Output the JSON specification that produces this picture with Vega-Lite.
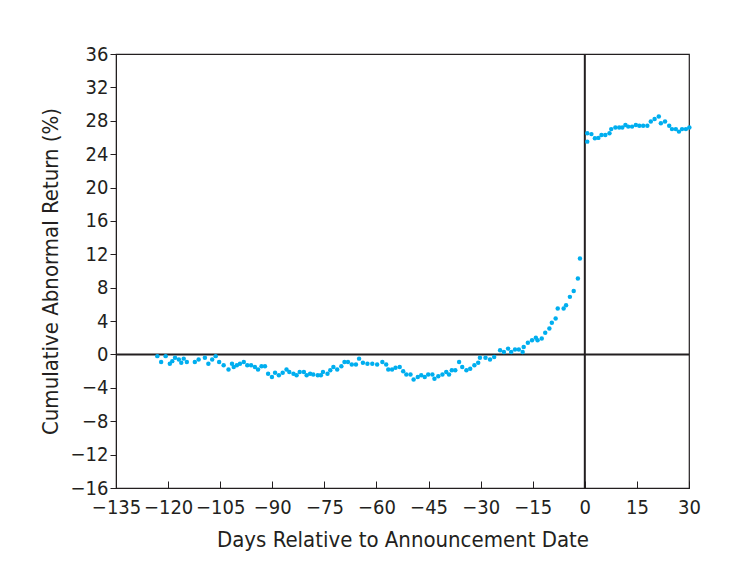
{
  "$schema": "https://vega.github.io/schema/vega-lite/v6.json",
  "width": 573,
  "height": 434,
  "autosize": {"type": "none"},
  "padding": {"left": 116, "top": 54, "right": 62, "bottom": 87},
  "background": "white",
  "config": {
    "view": {"stroke": "#231f20", "strokeWidth": 1.2},
    "axis": {
      "labelFont": "Liberation Sans Narrow, DejaVu Sans Condensed, Roboto",
      "labelFontSize": 20,
      "labelColor": "#231f20",
      "titleFont": "Liberation Sans Narrow, DejaVu Sans Condensed, Roboto",
      "titleFontSize": 22,
      "titleFontWeight": "normal",
      "titleColor": "#231f20",
      "domainColor": "#231f20",
      "tickColor": "#231f20",
      "grid": false
    }
  },
  "datasets": {
    "car": [
      {"day": -123.1, "value": -0.2}, {"day": -122, "value": -0.9}, {"day": -120.7, "value": -0.2}, {"day": -119.5, "value": -1.1},
      {"day": -118.8, "value": -0.8}, {"day": -118, "value": -0.4}, {"day": -116.9, "value": -0.6}, {"day": -116.2, "value": -1.0},
      {"day": -115.5, "value": -0.5}, {"day": -114.6, "value": -0.9}, {"day": -112.3, "value": -0.9}, {"day": -111.2, "value": -0.6},
      {"day": -109.4, "value": -0.4}, {"day": -108.4, "value": -1.1}, {"day": -107.3, "value": -0.6}, {"day": -106.3, "value": -0.2},
      {"day": -105.3, "value": -0.9}, {"day": -104, "value": -1.3}, {"day": -102.6, "value": -1.8}, {"day": -101.6, "value": -1.1},
      {"day": -101.1, "value": -1.5}, {"day": -100.2, "value": -1.3}, {"day": -99.3, "value": -1.1}, {"day": -98.2, "value": -0.9},
      {"day": -97.2, "value": -1.3}, {"day": -96.1, "value": -1.3}, {"day": -95, "value": -1.5}, {"day": -94.1, "value": -1.8},
      {"day": -93.1, "value": -1.4}, {"day": -92.1, "value": -1.4}, {"day": -91.2, "value": -2.3}, {"day": -90.1, "value": -2.7},
      {"day": -89.2, "value": -2.2}, {"day": -88.1, "value": -2.5}, {"day": -87, "value": -2.2}, {"day": -85.9, "value": -1.8},
      {"day": -85.1, "value": -2.1}, {"day": -83.9, "value": -2.3}, {"day": -83, "value": -2.5}, {"day": -82.1, "value": -2.1},
      {"day": -80.9, "value": -2.1}, {"day": -80.1, "value": -2.5}, {"day": -79.1, "value": -2.3}, {"day": -78.2, "value": -2.4},
      {"day": -76.9, "value": -2.5}, {"day": -76, "value": -2.5}, {"day": -75.4, "value": -2.1}, {"day": -74.1, "value": -2.3},
      {"day": -73.3, "value": -1.9}, {"day": -72.4, "value": -1.5}, {"day": -71.3, "value": -1.8}, {"day": -70.1, "value": -1.4},
      {"day": -69.2, "value": -0.9}, {"day": -68.2, "value": -0.9}, {"day": -67.1, "value": -1.2}, {"day": -65.9, "value": -1.2},
      {"day": -65, "value": -0.5}, {"day": -63.9, "value": -1.0}, {"day": -62.6, "value": -1.1}, {"day": -61.2, "value": -1.1},
      {"day": -59.8, "value": -1.2}, {"day": -58.3, "value": -0.9}, {"day": -57.2, "value": -1.2}, {"day": -56.6, "value": -1.8},
      {"day": -55.5, "value": -1.8}, {"day": -54.5, "value": -1.6}, {"day": -53.3, "value": -1.5}, {"day": -52.3, "value": -2.0},
      {"day": -51.4, "value": -2.4}, {"day": -50.2, "value": -2.4}, {"day": -49.3, "value": -3.0}, {"day": -48.1, "value": -2.7},
      {"day": -47.1, "value": -2.5}, {"day": -46.1, "value": -2.7}, {"day": -45.1, "value": -2.4}, {"day": -43.9, "value": -2.4},
      {"day": -43.3, "value": -2.9}, {"day": -42.2, "value": -2.6}, {"day": -41, "value": -2.4}, {"day": -39.9, "value": -2.1},
      {"day": -39.1, "value": -2.4}, {"day": -38.3, "value": -1.9}, {"day": -37.3, "value": -1.9}, {"day": -36.2, "value": -0.9},
      {"day": -35.3, "value": -1.5}, {"day": -34.1, "value": -1.9}, {"day": -33, "value": -1.7}, {"day": -31.8, "value": -1.3},
      {"day": -30.7, "value": -1.0}, {"day": -30.2, "value": -0.4}, {"day": -28.6, "value": -0.4}, {"day": -27.3, "value": -0.6},
      {"day": -26.1, "value": -0.3}, {"day": -24.4, "value": 0.5}, {"day": -23.3, "value": 0.3}, {"day": -22.1, "value": 0.7},
      {"day": -21.2, "value": 0.3}, {"day": -20.1, "value": 0.6}, {"day": -19, "value": 0.6}, {"day": -17.9, "value": 0.3},
      {"day": -17.6, "value": 0.9}, {"day": -16.4, "value": 1.4}, {"day": -15.2, "value": 1.7}, {"day": -14.1, "value": 2.0},
      {"day": -13.6, "value": 1.7}, {"day": -12.4, "value": 1.9}, {"day": -11.4, "value": 2.6}, {"day": -10.2, "value": 3.1},
      {"day": -9.5, "value": 3.8}, {"day": -8.4, "value": 4.3}, {"day": -7.8, "value": 5.5}, {"day": -6.1, "value": 5.5},
      {"day": -5.4, "value": 5.9}, {"day": -4.3, "value": 6.9}, {"day": -3.2, "value": 7.6}, {"day": -2, "value": 9.1},
      {"day": -1.4, "value": 11.5},
      {"day": 0.7, "value": 25.5}, {"day": 0.7, "value": 26.5}, {"day": 1.9, "value": 26.4}, {"day": 2.9, "value": 25.9},
      {"day": 3.9, "value": 25.95}, {"day": 4.8, "value": 26.3}, {"day": 5.9, "value": 26.3}, {"day": 7.1, "value": 26.5},
      {"day": 7.6, "value": 27.0}, {"day": 8.8, "value": 27.2}, {"day": 9.9, "value": 27.2}, {"day": 10.8, "value": 27.2},
      {"day": 11.7, "value": 27.5}, {"day": 12.5, "value": 27.3}, {"day": 13.6, "value": 27.3}, {"day": 14.7, "value": 27.5},
      {"day": 15.7, "value": 27.4}, {"day": 16.8, "value": 27.4}, {"day": 18, "value": 27.4}, {"day": 19, "value": 27.9},
      {"day": 20.1, "value": 28.2}, {"day": 21.3, "value": 28.5}, {"day": 21.9, "value": 27.7}, {"day": 23.1, "value": 27.9},
      {"day": 24.3, "value": 27.4}, {"day": 25.1, "value": 27.0}, {"day": 26.2, "value": 27.0}, {"day": 27.1, "value": 26.7},
      {"day": 28, "value": 27.0}, {"day": 29.1, "value": 27.0}, {"day": 30.1, "value": 27.2}
    ],
    "vline": [{"day": 0}],
    "hline": [{"value": 0}]
  },
  "layer": [
    {
      "data": {"name": "hline"},
      "mark": {"type": "rule", "color": "#231f20", "strokeWidth": 2},
      "encoding": {
        "y": {
          "field": "value", "type": "quantitative",
          "scale": {"domain": [-16, 36], "nice": false, "zero": false},
          "axis": {
            "title": "Cumulative Abnormal Return (%)",
            "values": [-16, -12, -8, -4, 0, 4, 8, 12, 16, 20, 24, 28, 32, 36],
            "tickSize": 6,
            "labelPadding": 2,
            "titlePadding": 8,
            "labelFlush": false,
            "labelOverlap": false
          }
        }
      }
    },
    {
      "data": {"name": "vline"},
      "mark": {"type": "rule", "color": "#231f20", "strokeWidth": 2},
      "encoding": {
        "x": {
          "field": "day", "type": "quantitative",
          "scale": {"domain": [-135, 30], "nice": false, "zero": false},
          "axis": {
            "title": "Days Relative to Announcement Date",
            "values": [-135, -120, -105, -90, -75, -60, -45, -30, -15, 0, 15, 30],
            "tickSize": -7,
            "labelPadding": 16,
            "titlePadding": 12,
            "labelFlush": false,
            "labelOverlap": false
          }
        }
      }
    },
    {
      "data": {"name": "car"},
      "mark": {"type": "circle", "color": "#00aeef", "opacity": 1, "size": 20, "clip": false},
      "encoding": {
        "x": {
          "field": "day", "type": "quantitative",
          "scale": {"domain": [-135, 30], "nice": false, "zero": false},
          "axis": {
            "title": "Days Relative to Announcement Date",
            "values": [-135, -120, -105, -90, -75, -60, -45, -30, -15, 0, 15, 30],
            "tickSize": -7,
            "labelPadding": 16,
            "titlePadding": 12,
            "labelFlush": false,
            "labelOverlap": false
          }
        },
        "y": {
          "field": "value", "type": "quantitative",
          "scale": {"domain": [-16, 36], "nice": false, "zero": false},
          "axis": {
            "title": "Cumulative Abnormal Return (%)",
            "values": [-16, -12, -8, -4, 0, 4, 8, 12, 16, 20, 24, 28, 32, 36],
            "tickSize": 6,
            "labelPadding": 2,
            "titlePadding": 8,
            "labelFlush": false,
            "labelOverlap": false
          }
        }
      }
    }
  ]
}
